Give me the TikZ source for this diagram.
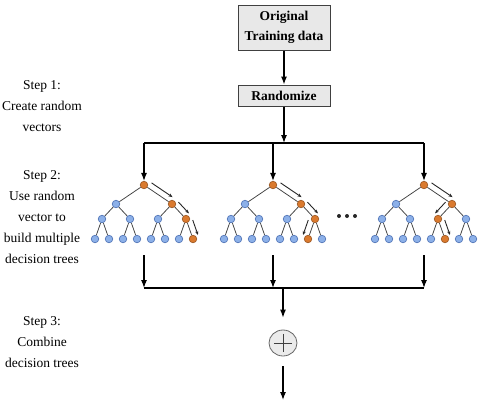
\documentclass[tikz,border=0pt]{standalone}
\usepackage{fontspec}
\setmainfont{Liberation Serif}
\usepackage{tikz}
\usetikzlibrary{shapes.geometric, arrows.meta, positioning, calc}
\definecolor{leafblue}{RGB}{140,176,232}
\definecolor{leafedge}{RGB}{72,108,178}
\definecolor{hotorange}{RGB}{218,122,46}
\definecolor{hotedge}{RGB}{150,82,30}
\definecolor{boxgray}{RGB}{232,232,232}

\newcommand{\patharrow}[3]{%
  \draw[patharr] ($(#1)!0.15!(#2)!6pt!#3:(#2)$) -- ($(#1)!0.9!(#2)!6pt!#3:(#2)$);}

\begin{document}
\begin{tikzpicture}[x=1pt, y=-1pt,
  gbox/.style={rectangle, draw=black!75, line width=1pt, fill=boxgray,
               minimum width=92pt, font=\fontsize{13.5}{20}\selectfont\bfseries,
               align=center, inner sep=2pt},
  steptext/.style={align=center, font=\fontsize{13.5}{21}\selectfont},
  tnode/.style={circle, draw=leafedge, fill=leafblue, line width=0.6pt,
                minimum size=7.6pt, inner sep=0pt},
  hotnode/.style={draw=hotedge, fill=hotorange},
  edge/.style={draw=black!75, line width=0.75pt},
  arr/.style={-{Latex[length=8pt, width=6pt]}, line width=1.1pt},
  patharr/.style={-{Stealth[length=4pt, width=3.2pt]}, line width=0.9pt, black!85},
  combine/.style={ellipse, draw=black!60, line width=0.8pt, fill=black!8,
                  minimum width=28pt, minimum height=26pt, inner sep=0pt}
]
\useasboundingbox (0,0) rectangle (480,408);

%% ── Left column: steps ──────────────────────────────────────────────────
\node[steptext] (step1) at (42,106) {Step 1:\\Create random\\vectors};
\node[steptext] (step2) at (42,217) {Step 2:\\Use random\\vector to\\build multiple\\decision trees};
\node[steptext] (step3) at (42,342) {Step 3:\\Combine\\decision trees};

%% ── Data and randomize ──────────────────────────────────────────────────
\node[gbox, minimum height=45pt] (orig) at (284,27.5) {Original\\Training data};
\node[gbox, minimum height=21pt] (rand) at (284,95.5) {Randomize};

\coordinate (split) at (284,143);
\coordinate (join)  at (283,288);
\coordinate (lo)    at (0,255);

%% ── Trees ───────────────────────────────────────────────────────────────
\foreach \k/\rx/\pa/\pb in {1/144/7/15, 2/273/7/14, 3/424/6/13} {
  \foreach \n/\dx/\y in {1/0/185, 2/-28/204, 3/28/204,
      4/-42/219, 5/-14/219, 6/14/219, 7/42/219,
      8/-49/239, 9/-35/239, 10/-21/239, 11/-7/239,
      12/7/239, 13/21/239, 14/35/239, 15/49/239} {
    \pgfmathtruncatemacro\hot{(\n==1)||(\n==3)||(\n==\pa)||(\n==\pb)}
    \ifnum\hot=1
      \node[tnode, hotnode] (t\k-\n) at (\rx+\dx,\y) {};
    \else
      \node[tnode] (t\k-\n) at (\rx+\dx,\y) {};
    \fi
  }
  \foreach \p/\c in {1/2,1/3,2/4,2/5,3/6,3/7,4/8,4/9,5/10,5/11,6/12,6/13,7/14,7/15}
    \draw[edge] (t\k-\p) -- (t\k-\c);
}

%% path marks beside the chosen branches
\patharrow{t1-1}{t1-3}{90}
\patharrow{t1-3}{t1-7}{90}
\patharrow{t1-7}{t1-15}{90}
\patharrow{t2-1}{t2-3}{90}
\patharrow{t2-3}{t2-7}{90}
\patharrow{t2-7}{t2-14}{-90}
\patharrow{t3-1}{t3-3}{90}
\patharrow{t3-3}{t3-6}{-90}
\patharrow{t3-6}{t3-13}{90}

%% dots between trees
\foreach \i/\dx in {1/339, 2/347, 3/355}
  \node[circle, fill=black!85, minimum size=4pt, inner sep=0pt] (dot\i) at (\dx,216) {};

%% ── Combine ─────────────────────────────────────────────────────────────
\node[combine] (comb) at (283,343) {};
\draw[line width=0.8pt, black!75]
  ($(comb.west)!0.18!(comb.east)$) -- ($(comb.west)!0.82!(comb.east)$)
  ($(comb.north)!0.16!(comb.south)$) -- ($(comb.north)!0.84!(comb.south)$);
\coordinate (out) at (283,400);

%% ── Arrows ──────────────────────────────────────────────────────────────
\draw[arr] (orig) -- (rand);
\draw[arr] (rand) -- (split);
\draw[line width=1.1pt] (t1-1 |- split) -- (t3-1 |- split);
\foreach \k in {1,2,3} {
  \draw[arr] (t\k-1 |- split) -- (t\k-1);
  \draw[arr] (t\k-1 |- lo) -- (t\k-1 |- join);
}
\draw[line width=1.1pt] (t1-1 |- join) -- (t3-1 |- join);
\draw[arr, shorten >=12pt] (join) -- (comb);
\draw[arr, shorten <=10pt] (comb) -- (out);

\end{tikzpicture}
\end{document}
